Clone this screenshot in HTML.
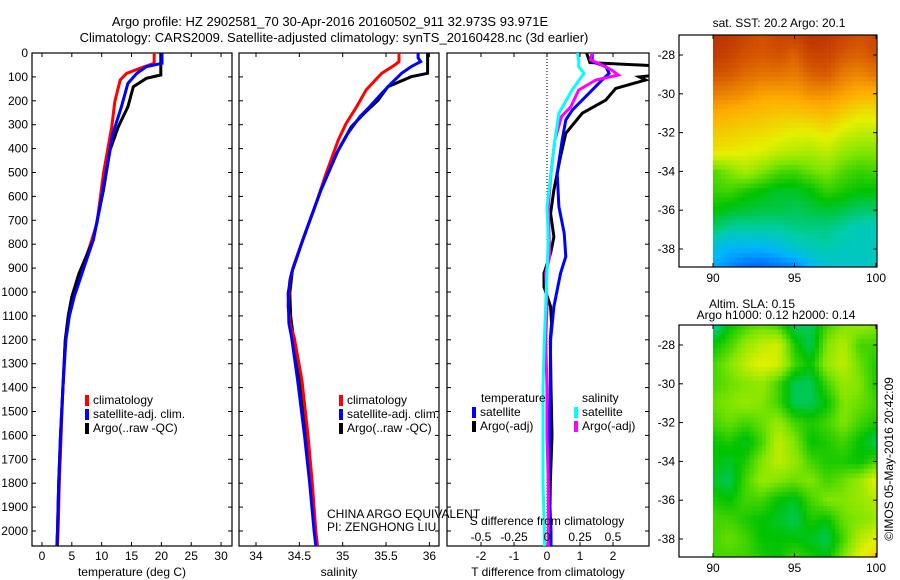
<!DOCTYPE html>
<html><head><meta charset="utf-8"><style>
body{margin:0;background:#fff}
svg{display:block;font-family:"Liberation Sans",sans-serif;font-size:12px}
</style></head><body>
<svg id="fig" width="900" height="580" viewBox="0 0 900 580">
<text x="330" y="26" text-anchor="middle" font-size="13">Argo profile: HZ 2902581_70 30-Apr-2016 20160502_911 32.973S 93.971E</text>
<text x="334" y="42" text-anchor="middle" font-size="13">Climatology: CARS2009. Satellite-adjusted climatology: synTS_20160428.nc (3d earlier)</text>
<text x="779" y="27" text-anchor="middle">sat. SST: 20.2 Argo: 20.1</text>
<text x="752" y="308" text-anchor="middle">Altim. SLA: 0.15</text>
<text x="776" y="319" text-anchor="middle">Argo h1000: 0.12 h2000: 0.14</text>
<text transform="translate(893,459) rotate(-90)" text-anchor="middle">©IMOS 05-May-2016 20:42:09</text>
<g id="g"></g>
</svg>
<script>
// ---- data ----
const depthTicks=[0,100,200,300,400,500,600,700,800,900,1000,1100,1200,1300,1400,1500,1600,1700,1800,1900,2000];
const tempTicks=[0,5,10,15,20,25,30];
const salTicks=[34,34.5,35,35.5,36];
const tdTicks=[-2,-1,0,1,2];
const sdTicks=[-0.5,-0.25,0,0.25,0.5];
const sdTickLabels=["-0.5","-0.25","0","0.25","0.5"];

const tClimD=[0,43,64,85,113,204,308,503,713,810,922,1020,1100,1200,1400,1600,1800,2000,2060];
const tClimV=[18.8,18.8,16.4,14.2,13.1,12.2,11.7,10.3,9.2,8.0,6.4,5.2,4.5,3.9,3.5,3.2,2.9,2.7,2.6];
const tSatD=[0,43,57,85,127,225,336,503,643,782,922,1020,1100,1200,1400,1600,1800,2000,2060];
const tSatV=[20.1,20.1,17.5,15.9,14.4,13.3,11.9,10.7,9.7,8.6,6.7,5.4,4.6,4.0,3.5,3.1,2.8,2.6,2.5];
const tArgoD=[0,92,106,141,225,308,406,573,782,922,1020,1100,1200,1400,1600,1800,2000,2060];
const tArgoV=[19.9,19.9,17.5,15.3,14.4,12.8,11.4,10.3,8.6,6.2,5.0,4.4,3.9,3.5,3.1,2.8,2.6,2.5];

const sClimD=[0,36,50,85,155,225,294,364,503,643,782,894,950,1061,1145,1187,1368,1600,1800,2000,2063];
const sClimV=[35.65,35.65,35.60,35.45,35.27,35.16,35.04,34.95,34.81,34.68,34.54,34.43,34.39,34.37,34.40,34.44,34.53,34.60,34.65,34.69,34.71];
const sSatD=[0,20,36,57,85,127,169,225,266,336,420,573,782,922,1006,1131,1187,1368,1600,1800,2000,2063];
const sSatV=[35.87,35.87,35.90,35.79,35.68,35.56,35.45,35.31,35.20,35.06,34.93,34.75,34.54,34.41,34.37,34.38,34.41,34.48,34.56,34.62,34.67,34.69];
const sArgoD=[0,85,99,141,197,252,308,406,573,782,908,1006,1103,1187,1368,1600,1800,2000,2063];
const sArgoV=[35.98,35.98,35.79,35.52,35.41,35.25,35.10,34.95,34.75,34.54,34.42,34.39,34.40,34.43,34.50,34.58,34.64,34.68,34.70];

const dTSatD=[0,36,57,85,113,183,238,280,364,503,643,754,852,922,1061,1200,1400,1600,1800,2000,2063];
const dTSatV=[1.37,1.37,1.78,1.88,1.67,1.17,0.77,0.57,0.46,0.31,0.36,0.52,0.57,0.41,0.21,0.11,0.1,0.08,0.06,0.12,0.12];
const dTArgoD=[0,40,55,90,100,113,148,197,252,336,434,573,671,769,838,922,978,1061,1131,1200,1400,1600,1800,2000,2063];
const dTArgoV=[1.2,1.3,3.5,3.5,2.8,2.99,2.08,1.78,1.07,0.57,0.41,0.21,0.11,0.21,0.11,-0.09,-0.09,0.11,0.14,0.1,0.12,0.15,0.1,0.08,0.1];
const dSSatD=[0,29,57,85,155,252,364,503,643,782,922,1061,1200,1400,1600,1800,2000,2063];
const dSSatV=[0.23,0.24,0.24,0.28,0.19,0.09,0.06,0.03,0.0,0.01,0.0,-0.01,-0.02,-0.03,-0.03,-0.03,-0.02,-0.02];
const dSArgoD=[0,29,43,71,92,113,155,225,266,364,503,643,852,922,1061,1200,1400,1600,1800,2000,2063];
const dSArgoV=[0.34,0.33,0.39,0.49,0.54,0.37,0.24,0.18,0.11,0.06,0.03,0.01,0.02,-0.01,0.0,-0.01,0,0,0.01,0.01,0.01];

const lonTicks=[90,95,100];
const latTicks=[-28,-30,-32,-34,-36,-38];
const gridLats=[-27,-28,-29,-30,-31,-32,-33,-34,-35,-36,-37,-38,-39];
const gridLons=[90,91,92,93,94,95,96,97,98,99,100];
const sstGrid=[
[.95,.94,.92,.9,.92,.92,.95,.94,.92,.9,.92],
[.94,.92,.9,.89,.9,.88,.92,.92,.89,.88,.9],
[.9,.89,.87,.86,.86,.85,.88,.89,.85,.84,.86],
[.85,.84,.83,.81,.81,.81,.83,.83,.81,.79,.79],
[.8,.79,.78,.77,.76,.76,.77,.78,.75,.72,.72],
[.76,.75,.74,.73,.72,.7,.7,.72,.68,.66,.66],
[.72,.71,.7,.69,.66,.65,.64,.66,.62,.6,.6],
[.56,.6,.64,.6,.56,.55,.58,.6,.56,.54,.55],
[.54,.55,.52,.5,.48,.48,.5,.54,.52,.5,.5],
[.5,.48,.47,.46,.46,.45,.46,.47,.46,.44,.44],
[.44,.4,.4,.4,.4,.42,.42,.42,.4,.38,.38],
[.34,.3,.3,.3,.32,.36,.38,.4,.38,.38,.38],
[.28,.24,.18,.17,.2,.22,.3,.34,.36,.36,.38]];
const slaGrid=[
[.4,.5,.55,.58,.55,.45,.45,.55,.6,.62,.6],
[.5,.55,.62,.66,.68,.52,.45,.6,.65,.55,.55],
[.55,.6,.66,.7,.68,.55,.5,.62,.66,.58,.52],
[.55,.58,.6,.62,.55,.45,.45,.55,.62,.6,.52],
[.58,.6,.62,.6,.55,.45,.45,.5,.6,.58,.55],
[.55,.58,.55,.58,.62,.55,.52,.55,.6,.55,.52],
[.5,.52,.48,.55,.66,.6,.5,.52,.55,.5,.45],
[.5,.48,.52,.6,.66,.62,.55,.52,.52,.5,.55],
[.48,.45,.55,.62,.6,.58,.6,.55,.58,.62,.7],
[.52,.5,.55,.55,.5,.48,.55,.6,.6,.62,.65],
[.55,.55,.52,.5,.48,.45,.52,.5,.58,.6,.62],
[.55,.58,.55,.5,.5,.5,.48,.45,.55,.65,.7],
[.55,.55,.55,.52,.5,.55,.52,.5,.6,.7,.75]];

// ---- rendering ----
const NS="http://www.w3.org/2000/svg";
const G=document.getElementById('g');
function mk(tag,at,parent){const e=document.createElementNS(NS,tag);for(const k in at)e.setAttribute(k,at[k]);(parent||G).appendChild(e);return e;}
function txt(x,y,s,anchor,parent){const t=mk('text',{x:x,y:y,'text-anchor':anchor||'middle'},parent);t.textContent=s;return t;}
const TOP=53,BOT=546;
const yD=d=>TOP+d*0.239;

function panel(name,left,right,xmin,xmax,ticks,labels,xtitle,labelY){
  const xs=v=>left+(v-xmin)/(xmax-xmin)*(right-left);
  const g=mk('g',{});
  
  
  const box=mk('rect',{x:left,y:TOP,width:right-left,height:BOT-TOP,fill:'none',stroke:'#000','stroke-width':1.2},g);
  
  
  depthTicks.forEach(d=>{const y=yD(d);mk('line',{x1:left,x2:left+4,y1:y,y2:y,stroke:'#000'},g);mk('line',{x1:right,x2:right-4,y1:y,y2:y,stroke:'#000'},g);});
  ticks.forEach((v,i)=>{const x=xs(v);mk('line',{x1:x,x2:x,y1:TOP,y2:TOP+4,stroke:'#000'},g);mk('line',{x1:x,x2:x,y1:BOT,y2:BOT-4,stroke:'#000'},g);
    const t=txt(x,labelY,labels?labels[i]:String(v),'middle',g);
    
    });
  const xt=txt((left+right)/2,576,xtitle,'middle',g);
  
  
  return {xs,g};
}
function series(p,name,D,V,color,w,clip,scale){
  const pts=D.map((d,i)=>(p.xs(V[i]*(scale||1))).toFixed(1)+','+yD(d).toFixed(1)).join(' ');
  const l=mk('polyline',{points:pts,fill:'none',stroke:color,'stroke-width':w,'stroke-linejoin':'miter'},p.g);
  if(clip)l.setAttribute('clip-path','url(#'+clip+')');
  
  
}
function legendEntry(p,x,y,color,label,name){
  mk('rect',{x:x-2,y:y-9,width:4,height:11,fill:color},p.g);
  const t=txt(x+6,y,label,'start',p.g);
  
  
}
depthTicks.forEach(d=>{const t=txt(28,yD(d)+4,String(d),'end');
  
  });

const p1=panel('temperature-panel',32,232,-1.67,31.83,tempTicks,null,'temperature (deg C)',560);
series(p1,'temp-climatology-line',tClimD,tClimV,'#f00',3);
series(p1,'temp-argo-line',tArgoD,tArgoV,'#000',3);
series(p1,'temp-satellite-line',tSatD,tSatV,'#00f',3);
legendEntry(p1,87,404,'#f00','climatology','legend-climatology');
legendEntry(p1,87,418,'#00f','satellite-adj. clim.','legend-satellite-adj');
legendEntry(p1,87,432,'#000','Argo(..raw -QC)','legend-argo');

const p2=panel('salinity-panel',239,439,33.804,36.111,salTicks,null,'salinity',560);
series(p2,'sal-argo-line',sArgoD,sArgoV,'#000',3);
series(p2,'sal-climatology-line',sClimD,sClimV,'#f00',3);
series(p2,'sal-satellite-line',sSatD,sSatV,'#00f',3);
legendEntry(p2,341,404,'#f00','climatology','legend-climatology-2');
legendEntry(p2,341,418,'#00f','satellite-adj. clim.','legend-satellite-adj-2');
legendEntry(p2,341,432,'#000','Argo(..raw -QC)','legend-argo-2');
const c1=txt(327,518,'CHINA ARGO EQUIVALENT','start');


const c2=txt(327,531,'PI: ZENGHONG LIU','start');



const defs=mk('defs',{});
const cp=mk('clipPath',{id:'clip3'},defs);
mk('rect',{x:447,y:TOP,width:202,height:BOT-TOP},cp);
const p3=panel('difference-panel',447,649,-3.03,3.09,tdTicks,null,'T difference from climatology',560);
const zl=mk('line',{x1:p3.xs(0),x2:p3.xs(0),y1:TOP,y2:BOT,stroke:'#000','stroke-dasharray':'1,2'},p3.g);


series(p3,'dT-argo-line',dTArgoD,dTArgoV,'#000',3,'clip3');
series(p3,'dT-satellite-line',dTSatD,dTSatV,'#00f',3,'clip3');
series(p3,'dS-argo-line',dSArgoD,dSArgoV,'#f0f',3,'clip3',4);
series(p3,'dS-satellite-line',dSSatD,dSSatV,'#0ff',3,'clip3',4);
sdTicks.forEach((v,i)=>{const t=txt(p3.xs(v*4),541,sdTickLabels[i]);
  
  });
const st=txt(547,525,'S difference from climatology');


const lt1=txt(481,402,'temperature','start');


const lt2=txt(582,402,'salinity','start');


legendEntry(p3,474,416,'#00f','satellite','legend-dT-satellite');
legendEntry(p3,474,430,'#000','Argo(-adj)','legend-dT-argo');
legendEntry(p3,576,416,'#0ff','satellite','legend-dS-satellite');
legendEntry(p3,576,430,'#f0f','Argo(-adj)','legend-dS-argo');

const stops=[[0,[0,0,140]],[0.15,[0,80,255]],[0.3,[0,180,255]],[0.4,[0,205,170]],[0.5,[0,195,0]],[0.6,[130,230,0]],[0.7,[230,240,0]],[0.8,[255,170,0]],[0.9,[210,80,0]],[1,[160,20,0]]];
function cmap(v){v=Math.max(0,Math.min(1,v));for(let i=1;i<stops.length;i++){if(v<=stops[i][0]){const a=stops[i-1],b=stops[i],f=(v-a[0])/(b[0]-a[0]);return 'rgb('+a[1].map((c,k)=>Math.round(c+(b[1][k]-c)*f)).join(',')+')';}}return 'rgb(160,20,0)';}
function mapPanel(name,top,grid){
  const L=679,R=877,B=top+232;
  const xl=lon=>713+(lon-90)*16.3;
  const yl=lat=>top+20+(-28-lat)*19.4;
  const g=mk('g',{});
  
  
  const nx=40,ny=50;
  const lat0=-26.97,lat1=-38.93;
  for(let j=0;j<ny;j++){
    const la=lat0+(lat1-lat0)*(j+0.5)/ny;
    for(let i=0;i<nx;i++){
      const lo=90+10*(i+0.5)/nx;
      const fr=Math.min(gridLats.length-1.001,Math.max(0,-27-la));
      const fc=Math.min(gridLons.length-1.001,Math.max(0,lo-90));
      const r0=Math.floor(fr),c0=Math.floor(fc),a=fr-r0,b=fc-c0;
      const v=grid[r0][c0]*(1-a)*(1-b)+grid[r0+1][c0]*a*(1-b)+grid[r0][c0+1]*(1-a)*b+grid[r0+1][c0+1]*a*b;
      const x0=xl(90+10*i/nx),x1=xl(90+10*(i+1)/nx);
      const y0=yl(lat0+(lat1-lat0)*j/ny),y1=yl(lat0+(lat1-lat0)*(j+1)/ny);
      mk('rect',{x:x0.toFixed(2),y:y0.toFixed(2),width:(x1-x0+0.3).toFixed(2),height:(y1-y0+0.3).toFixed(2),fill:cmap(v)},g);
    }
  }
  mk('rect',{x:L,y:top,width:R-L,height:B-top,fill:'none',stroke:'#000','stroke-width':1.2},g);
  latTicks.forEach(la=>{const y=yl(la);mk('line',{x1:L,x2:L+4,y1:y,y2:y,stroke:'#000'},g);mk('line',{x1:R,x2:R-4,y1:y,y2:y,stroke:'#000'},g);
    const t=txt(675,y+4,String(la),'end',g);
    
    });
  lonTicks.forEach(lo=>{const x=xl(lo);mk('line',{x1:x,x2:x,y1:top,y2:top+4,stroke:'#000'},g);mk('line',{x1:x,x2:x,y1:B,y2:B-4,stroke:'#000'},g);
    const t=txt(x,B+15,String(lo),'middle',g);
    
    });
}
mapPanel('sst-map',35,sstGrid);
mapPanel('sla-map',325,slaGrid);
</script>
</body></html>
